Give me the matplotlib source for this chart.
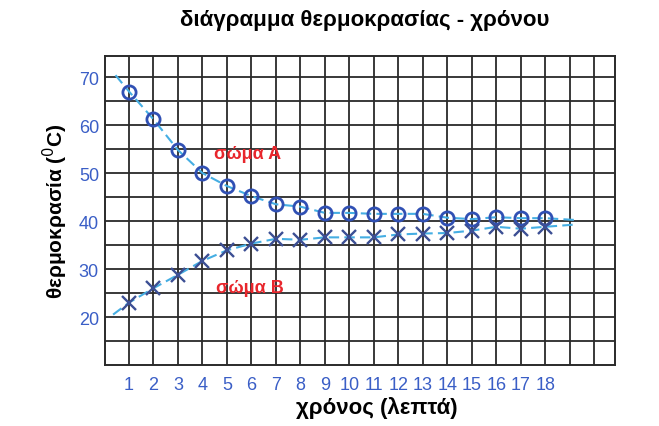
import numpy as np
import matplotlib
matplotlib.use('Agg')
import matplotlib.pyplot as plt

# δεδομένα (διαβασμένα από το διάγραμμα)
minutes = list(range(1, 19))
temp_a = [67, 61.2, 54.8, 50, 47.3, 45.2, 43.5, 43, 41.7, 41.7, 41.5, 41.5, 41.5, 40.7, 40.4, 40.8, 40.6, 40.6]
temp_b = [23, 26, 28.8, 31.7, 33.9, 35.3, 36.3, 36.1, 36.6, 36.6, 36.6, 37.2, 37.4, 37.5, 38, 38.8, 38.4, 38.8]

# άκρα της καμπύλης που σχεδίασε το χέρι
curve_a_start = (0.45, 70.4)
curve_a_end = (19.3, 40.2)
curve_b_start = (0.35, 20.5)
curve_b_end = (19.3, 39.3)

y_labels = [20, 30, 40, 50, 60, 70]
y_minor = [15, 25, 35, 45, 55, 65]
x_grid = list(range(1, 21))

title = 'διάγραμμα θερμοκρασίας - χρόνου'
xlabel = 'χρόνος (λεπτά)'
ylabel = 'θερμοκρασία ($^{0}$C)'

plt.rcParams['font.family'] = ['Liberation Sans', 'DejaVu Sans']

fig = plt.figure(figsize=(6.59, 4.27), dpi=100)
ax = fig.add_axes([0.1586, 0.1429, 0.9332 - 0.1586, 0.8665 - 0.1429])

line_col = '#45aee3'
circ_col = '#3050b4'
x_col = '#3c4f94'

ca_x = [curve_a_start[0]] + minutes + [curve_a_end[0]]
ca_y = [curve_a_start[1]] + temp_a + [curve_a_end[1]]
cb_x = [curve_b_start[0]] + minutes + [curve_b_end[0]]
cb_y = [curve_b_start[1]] + temp_b + [curve_b_end[1]]

ax.plot(ca_x, ca_y, color=line_col, lw=1.5, ls=(0, (5, 2.5)), zorder=3)
ax.plot(cb_x, cb_y, color=line_col, lw=1.5, ls=(0, (5, 2.5)), zorder=3)
ax.plot(minutes, temp_a, 'o', ms=9.5, mfc='none', mec=circ_col, mew=2.0, zorder=4)
ax.plot(minutes, temp_b, 'x', ms=10, color=x_col, mew=1.7, zorder=4)

ax.text(5.86, 54.1, 'σώμα Α', color='#e8262c', fontsize=13, fontweight='bold',
        ha='center', va='center', zorder=6)
ax.text(5.94, 26.2, 'σώμα Β', color='#e8262c', fontsize=13, fontweight='bold',
        ha='center', va='center', zorder=6)

ax.set_xlim(0, 20.85)
ax.set_ylim(10, 74.4)
ax.set_xticks(minutes)
ax.set_xticks(x_grid, minor=True)
ax.set_yticks(y_labels)
ax.set_yticks(y_minor, minor=True)
ax.grid(True, which='both', color='#2a2a2a', lw=1.3)
ax.set_axisbelow(True)
ax.tick_params(which='both', length=0)
ax.tick_params(axis='x', pad=8, labelsize=13, labelcolor='#3a5ec6')
ax.tick_params(axis='y', pad=4, labelsize=13, labelcolor='#3a5ec6')
for s in ax.spines.values():
    s.set_color('#2a2a2a')
    s.set_linewidth(1.4)

ax.set_xlabel(xlabel, fontsize=16, fontweight='bold')
ax.xaxis.set_label_coords(0.534, -0.1)
ax.set_ylabel(ylabel, fontsize=15, fontweight='bold', labelpad=6)
fig.text(0.553, 0.953, title, fontsize=16, fontweight='bold', ha='center', va='center')

fig.savefig('out.png', dpi=100)
